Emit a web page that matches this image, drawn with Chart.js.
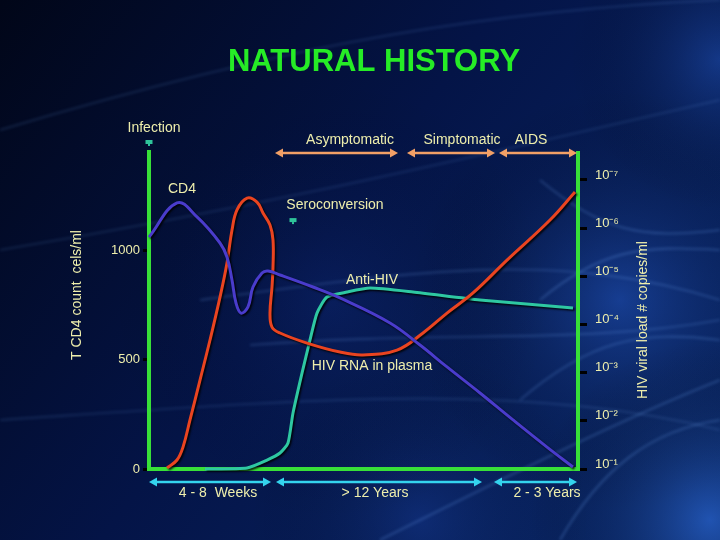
<!DOCTYPE html>
<html>
<head>
<meta charset="utf-8">
<script src="https://cdn.jsdelivr.net/npm/chart.js@4.4.1/dist/chart.umd.min.js"></script>
<style>
  html, body { margin: 0; padding: 0; background: #020a2c; }
  #wrap { width: 720px; height: 540px; }
</style>
</head>
<body>
<div id="wrap"><canvas id="natHist" width="720" height="540"></canvas></div>
<script>
// time runs left to right in slide units, 0 = infection
const cd4Time  = [0, 28, 48, 71, 78, 83, 87, 92, 99, 104, 113, 119, 131, 164, 191, 241, 271, 298, 331, 364, 398, 424];
const cd4Count = [1059, 1215, 1151, 1032, 968, 863, 758, 712, 740, 831, 895, 904, 886, 831, 781, 667, 566, 466, 347, 224, 100, 9];

const rnaTime  = [18, 28, 34, 41, 51, 61, 71, 78, 83, 88, 98, 108, 114, 121, 124, 124, 123, 121, 123, 131, 158, 191, 214, 248, 274, 298, 324, 358, 401, 426];
const rnaLevel = [5, 41, 100, 224, 406, 589, 785, 941, 1091, 1183, 1237, 1219, 1169, 1114, 1046, 922, 831, 712, 648, 621, 575, 534, 521, 543, 621, 712, 804, 954, 1137, 1265];

const antiTime  = [56, 98, 118, 131, 139, 144, 153, 161, 168, 178, 198, 221, 264, 331, 424];
const antiLevel = [0, 5, 41, 73, 119, 256, 438, 589, 712, 785, 808, 826, 808, 772, 735];

const cd4Ticks = [0, 500, 1000];
const loadTicks = [1, 2, 3, 4, 5, 6, 7];
const loadLabels = ['10\u207B\u00B9', '10\u207B\u00B2', '10\u207B\u00B3', '10\u207B\u2074', '10\u207B\u2075', '10\u207B\u2076', '10\u207B\u2077'];

const phaseNames = ['Asymptomatic', 'Simptomatic', 'AIDS'];
const phaseStart = [126, 258, 350];
const phaseEnd   = [249, 346, 428];
const phaseLabelAt = [201, 313, 382];

const spanNames = ['4 - 8  Weeks', '> 12 Years', '2 - 3 Years'];
const spanStart = [0, 127, 345];
const spanEnd   = [122, 333, 428];
const spanLabelAt = [69, 226, 398];

const FONT = '"Liberation Sans", Arial, sans-serif';
const TXT = '#eeeeac';
const AXIS_GREEN = '#38e038';

function pts(xs, ys) {
    return xs.map((t, i) => ({ x: t, y: ys[i] }));
}

const background = {
    id: 'background',
    beforeDraw(chart) {
        const ctx = chart.ctx;
        ctx.save();
        let g = ctx.createLinearGradient(0, 0, 720, 540);
        g.addColorStop(0, '#010618');
        g.addColorStop(0.45, '#041447');
        g.addColorStop(1, '#0a2a6e');
        ctx.fillStyle = g;
        ctx.fillRect(0, 0, 720, 540);

        const glows = [[620, 300, 210, 'rgba(45,105,225,0.40)'], [710, 520, 180, 'rgba(55,125,245,0.50)'],
                       [720, 60, 150, 'rgba(45,105,225,0.35)'], [420, 520, 170, 'rgba(35,80,190,0.25)'],
                       [330, 300, 220, 'rgba(25,60,160,0.20)']];
        glows.forEach(([cx, cy, r, c]) => {
            const rg = ctx.createRadialGradient(cx, cy, 0, cx, cy, r);
            rg.addColorStop(0, c);
            rg.addColorStop(1, 'rgba(0,0,0,0)');
            ctx.fillStyle = rg;
            ctx.fillRect(0, 0, 720, 540);
        });

        // soft light streaks
        ctx.filter = 'blur(1.5px)';
        ctx.lineWidth = 1.6;
        const streaks = [
            [0, 130, 300, 40, 500, 10, 720, 0, 0.20],
            [0, 250, 300, 200, 500, 150, 720, 100, 0.18],
            [200, 300, 420, 270, 560, 250, 720, 300, 0.25],
            [250, 345, 450, 330, 580, 345, 720, 320, 0.25],
            [0, 420, 300, 400, 520, 380, 720, 430, 0.18],
            [380, 540, 520, 470, 620, 420, 720, 380, 0.30],
            [560, 540, 600, 470, 650, 430, 720, 420, 0.30],
            [540, 180, 600, 230, 640, 240, 720, 230, 0.30],
            [540, 300, 600, 250, 640, 245, 720, 250, 0.30],
            [520, 400, 590, 340, 640, 330, 720, 340, 0.28]
        ];
        streaks.forEach(s => {
            ctx.strokeStyle = 'rgba(120,175,255,' + s[8] + ')';
            ctx.beginPath();
            ctx.moveTo(s[0], s[1]);
            ctx.bezierCurveTo(s[2], s[3], s[4], s[5], s[6], s[7]);
            ctx.stroke();
        });
        ctx.filter = 'none';
        ctx.restore();
    }
};

const lineShadow = {
    id: 'lineShadow',
    beforeDatasetsDraw(chart) {
        const ctx = chart.ctx;
        ctx.save();
        ctx.shadowColor = 'rgba(0,0,0,0.85)';
        ctx.shadowBlur = 2;
        ctx.shadowOffsetX = 1.5;
        ctx.shadowOffsetY = 1.5;
    },
    afterDatasetsDraw(chart) {
        chart.ctx.restore();
    }
};

function arrowHead(ctx, x, y, dir) {
    ctx.beginPath();
    ctx.moveTo(x, y);
    ctx.lineTo(x - dir * 8, y - 4.5);
    ctx.lineTo(x - dir * 8, y + 4.5);
    ctx.closePath();
    ctx.fill();
}

function doubleArrow(ctx, x1, x2, y, color) {
    ctx.strokeStyle = color;
    ctx.fillStyle = color;
    ctx.lineWidth = 2.5;
    ctx.beginPath();
    ctx.moveTo(x1 + 5, y);
    ctx.lineTo(x2 - 5, y);
    ctx.stroke();
    arrowHead(ctx, x1, y, -1);
    arrowHead(ctx, x2, y, 1);
}

function marker(ctx, x, y) {
    ctx.fillStyle = '#2fc49a';
    ctx.fillRect(x - 3.5, y - 3, 7, 4);
    ctx.fillRect(x - 1, y + 1, 2, 2);
}

const overlay = {
    id: 'overlay',
    afterDraw(chart) {
        const { ctx, chartArea: a, scales: { x, y } } = chart;
        ctx.save();
        ctx.textAlign = 'center';
        ctx.textBaseline = 'middle';

        ctx.font = 'bold 31px ' + FONT;
        ctx.fillStyle = '#26ec26';
        ctx.fillText('NATURAL HISTORY', 374, 62);

        // left axis line reaches up to the infection marker
        ctx.fillStyle = AXIS_GREEN;
        ctx.fillRect(a.left - 2, 150, 4, a.top - 150 + 2);

        ctx.font = '14px ' + FONT;
        ctx.fillStyle = TXT;
        ctx.fillText('Infection', 154, 128);
        marker(ctx, x.getPixelForValue(0), 143);

        phaseNames.forEach((n, i) => {
            ctx.fillStyle = TXT;
            ctx.fillText(n, x.getPixelForValue(phaseLabelAt[i]), 140);
            doubleArrow(ctx, x.getPixelForValue(phaseStart[i]), x.getPixelForValue(phaseEnd[i]), 153, '#f2a066');
        });

        spanNames.forEach((n, i) => {
            doubleArrow(ctx, x.getPixelForValue(spanStart[i]), x.getPixelForValue(spanEnd[i]), 482, '#34d4ee');
            ctx.fillStyle = TXT;
            ctx.fillText(n, x.getPixelForValue(spanLabelAt[i]), 493);
        });

        marker(ctx, x.getPixelForValue(144), y.getPixelForValue(1132));
        ctx.fillStyle = TXT;
        ctx.fillText('CD4', x.getPixelForValue(33), y.getPixelForValue(1278));
        ctx.fillText('Seroconversion', x.getPixelForValue(186), y.getPixelForValue(1205));
        ctx.fillText('Anti-HIV', x.getPixelForValue(223), y.getPixelForValue(863));
        ctx.fillText('HIV RNA in plasma', x.getPixelForValue(223), y.getPixelForValue(470));

        ctx.save();
        ctx.translate(77, 295);
        ctx.rotate(-Math.PI / 2);
        ctx.fillText('T CD4 count  cels/ml', 0, 0);
        ctx.restore();

        ctx.save();
        ctx.translate(643, 320);
        ctx.rotate(-Math.PI / 2);
        ctx.fillText('HIV viral load # copies/ml', 0, 0);
        ctx.restore();

        ctx.restore();
    }
};

const ctx = document.getElementById('natHist').getContext('2d');
new Chart(ctx, {
    type: 'line',
    data: {
        datasets: [
            { label: 'CD4', data: pts(cd4Time, cd4Count), borderColor: '#4a3ccc', borderWidth: 3, tension: 0.4, yAxisID: 'y' },
            { label: 'HIV RNA in plasma', data: pts(rnaTime, rnaLevel), borderColor: '#ea4420', borderWidth: 3, tension: 0.4, yAxisID: 'y' },
            { label: 'Anti-HIV', data: pts(antiTime, antiLevel), borderColor: '#2ec8a2', borderWidth: 3, tension: 0.2, yAxisID: 'y' }
        ]
    },
    options: {
        responsive: false,
        animation: false,
        layout: { padding: { top: 153, left: 0, right: 0, bottom: 0 } },
        elements: { point: { radius: 0 } },
        datasets: { line: { clip: false } },
        plugins: { legend: { display: false }, tooltip: { enabled: false } },
        scales: {
            x: {
                type: 'linear',
                min: 0,
                max: 429,
                ticks: { display: false },
                grid: { display: false },
                border: { color: AXIS_GREEN, width: 4 },
                afterFit: s => { s.height = 71; }
            },
            y: {
                type: 'linear',
                position: 'left',
                min: 0,
                max: 1443,
                afterBuildTicks: s => { s.ticks = cd4Ticks.map(v => ({ value: v })); },
                ticks: { autoSkip: false, color: TXT, font: { family: FONT, size: 13 }, padding: 3, callback: v => String(v) },
                grid: { drawOnChartArea: false, color: '#000', lineWidth: 3, tickLength: 6 },
                border: { color: AXIS_GREEN, width: 4 },
                afterFit: s => { s.width = 149; }
            },
            y2: {
                type: 'linear',
                position: 'right',
                min: 1,
                max: 7.56,
                afterBuildTicks: s => { s.ticks = loadTicks.map(v => ({ value: v })); },
                ticks: {
                    autoSkip: false, color: TXT, font: { family: FONT, size: 13 }, padding: 8, labelOffset: -5,
                    callback: v => loadLabels[loadTicks.indexOf(v)]
                },
                grid: { drawOnChartArea: false, color: '#000', lineWidth: 3, tickLength: 9 },
                border: { color: AXIS_GREEN, width: 4 },
                afterFit: s => { s.width = 142; }
            }
        }
    },
    plugins: [background, lineShadow, overlay]
});
</script>
</body>
</html>
